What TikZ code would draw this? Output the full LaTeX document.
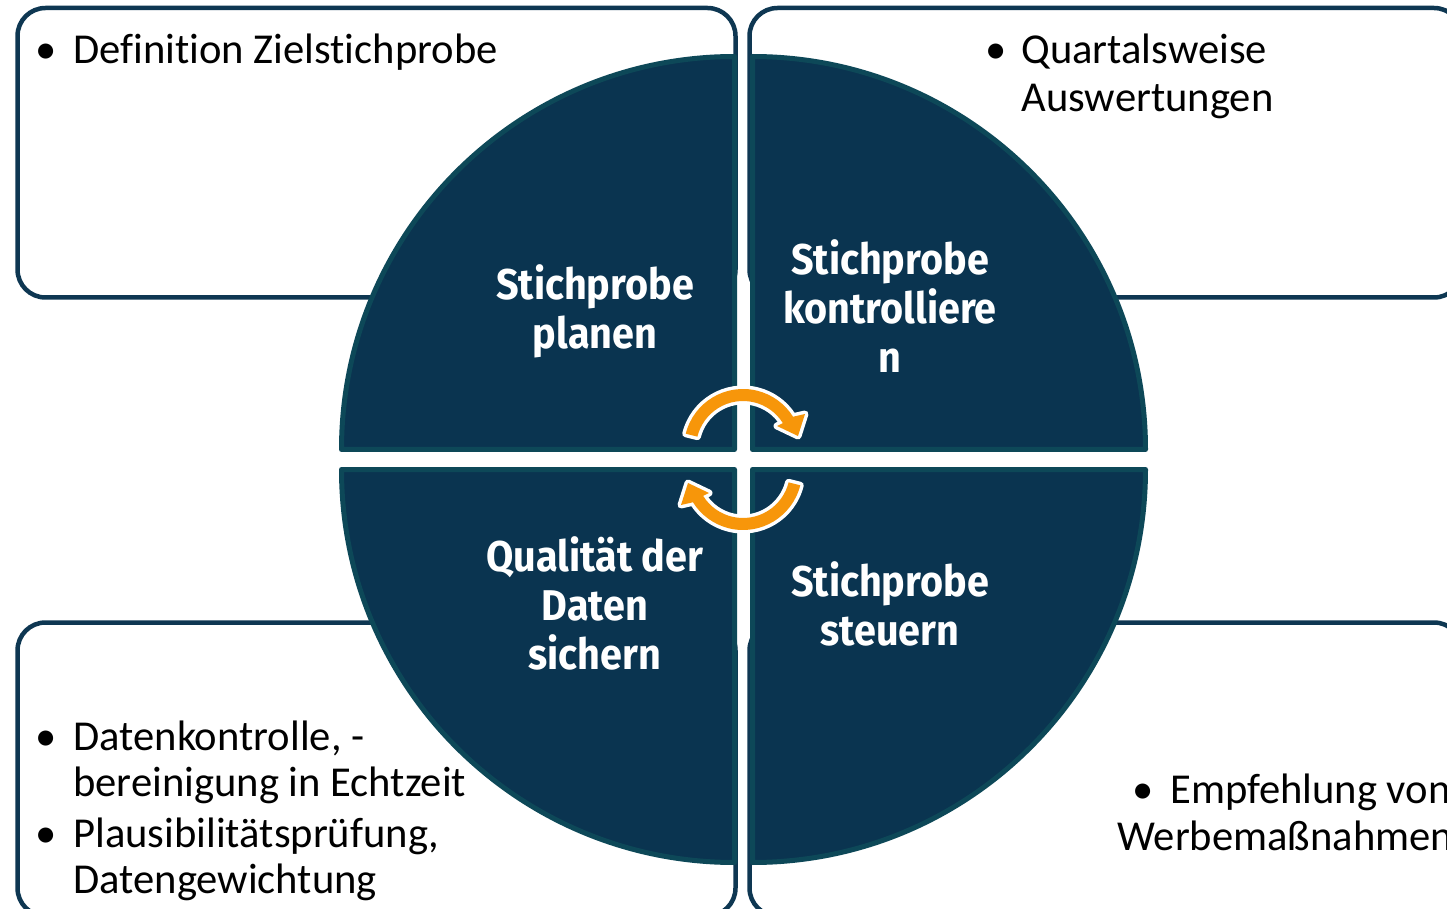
\documentclass[tikz,border=0pt]{standalone}
\usepackage{fontspec}
\setmainfont[Ligatures=NoCommon]{Carlito}
\newfontfamily\labelfont[FakeStretch=0.92]{Fira Sans}
\definecolor{navy}{HTML}{0A3450}
\definecolor{quadedge}{HTML}{0D4858}
\definecolor{boxline}{HTML}{0E3752}
\definecolor{arroworange}{HTML}{F7960A}
\begin{document}
\begin{tikzpicture}[x=0.5pt,y=-0.5pt,
  box/.style={fill=white,draw=boxline,line width=2.25pt,rounded corners=14pt},
  quad/.style={fill=navy,draw=quadedge,line width=2.5pt,line join=round},
  bul/.style={font=\fontsize{21.3}{24}\selectfont,text=black,inner sep=0pt,anchor=base west},
  dot/.style={font=\fontsize{21.3}{24}\selectfont,text=black,inner sep=0pt,anchor=base},
  lab/.style={font=\labelfont\bfseries\fontsize{21.5}{24.5}\selectfont,text=white,inner sep=0pt,anchor=base},
  arrowout/.style={draw=white,line width=3.5pt,line join=round},
  arrowin/.style={fill=arroworange},
  cyclearrow/.pic={
    \path[arrowout] (-166:59) arc[start angle=-166,end angle=-32,radius=59]
      -- (62,-34) -- (55,-12) -- (34,-22) -- (-32:47)
      arc[start angle=-32,end angle=-166,radius=47] -- cycle;
    \path[arrowin] (-166:59) arc[start angle=-166,end angle=-32,radius=59]
      -- (62,-34) -- (55,-12) -- (34,-22) -- (-32:47)
      arc[start angle=-32,end angle=-166,radius=47] -- cycle;
  }]
\useasboundingbox (0,0) rectangle (1447,909);
\fill[white] (0,0) rectangle (1447,909);

% boxes
\draw[box] (17.5,8) rectangle (735.5,297.5);
\draw[box] (749.5,8) rectangle (1462,297.5);
\draw[box] (17.5,622.5) rectangle (735.5,916);
\draw[box] (749.5,622.5) rectangle (1462,916);

% quadrants
\draw[quad] (734.5,449.5) -- (341.5,449.5) arc[start angle=180,end angle=270,radius=393] -- cycle;
\draw[quad] (752.5,449.5) -- (1145.5,449.5) arc[start angle=0,end angle=-90,radius=393] -- cycle;
\draw[quad] (734.5,469.5) -- (341.5,469.5) arc[start angle=180,end angle=90,radius=393] -- cycle;
\draw[quad] (752.5,469.5) -- (1145.5,469.5) arc[start angle=0,end angle=90,radius=393] -- cycle;

% quadrant labels
\node[lab] (p1a) at (595,300) {Stichprobe};
\node[lab] (p1b) at (595,349) {planen};
\node[lab] (p2a) at (890,275) {Stichprobe};
\node[lab] (p2b) at (890,324) {kontrolliere};
\node[lab] (p2c) at (890,373) {n};
\node[lab] (p3a) at (595,571) {Qualität der};
\node[lab] (p3b) at (595,620) {Daten};
\node[lab] (p3c) at (595,669) {sichern};
\node[lab] (p4a) at (890,596) {Stichprobe};
\node[lab] (p4b) at (890,645) {steuern};

% cycle arrows
\pic at (743,448) {cyclearrow};
\pic[rotate=180] at (743,471) {cyclearrow};

% bullet texts
\node[dot] (d1) at (46.5,64) {•};
\node[bul] (t1) at (73,64) {Definition Zielstichprobe};

\node[dot] (d2) at (996,64) {•};
\node[bul] (t2a) at (1021,64) {Quartalsweise};
\node[bul] (t2b) at (1021,112) {Auswertungen};

\node[dot] (d3) at (46.5,750) {•};
\node[bul] (t3a) at (73,750) {Datenkontrolle, -};
\node[bul] (t3b) at (73,796) {bereinigung in Echtzeit};
\node[dot] (d4) at (46.5,847) {•};
\node[bul] (t4a) at (73,847) {Plausibilitätsprüfung,};
\node[bul] (t4b) at (73,893) {Datengewichtung};

\node[dot] (d5) at (1143,803) {•};
\node[bul] (t5a) at (1170,803) {Empfehlung von};
\node[bul] (t5b) at (1117,850) {Werbemaßnahmen};
\end{tikzpicture}
\end{document}
